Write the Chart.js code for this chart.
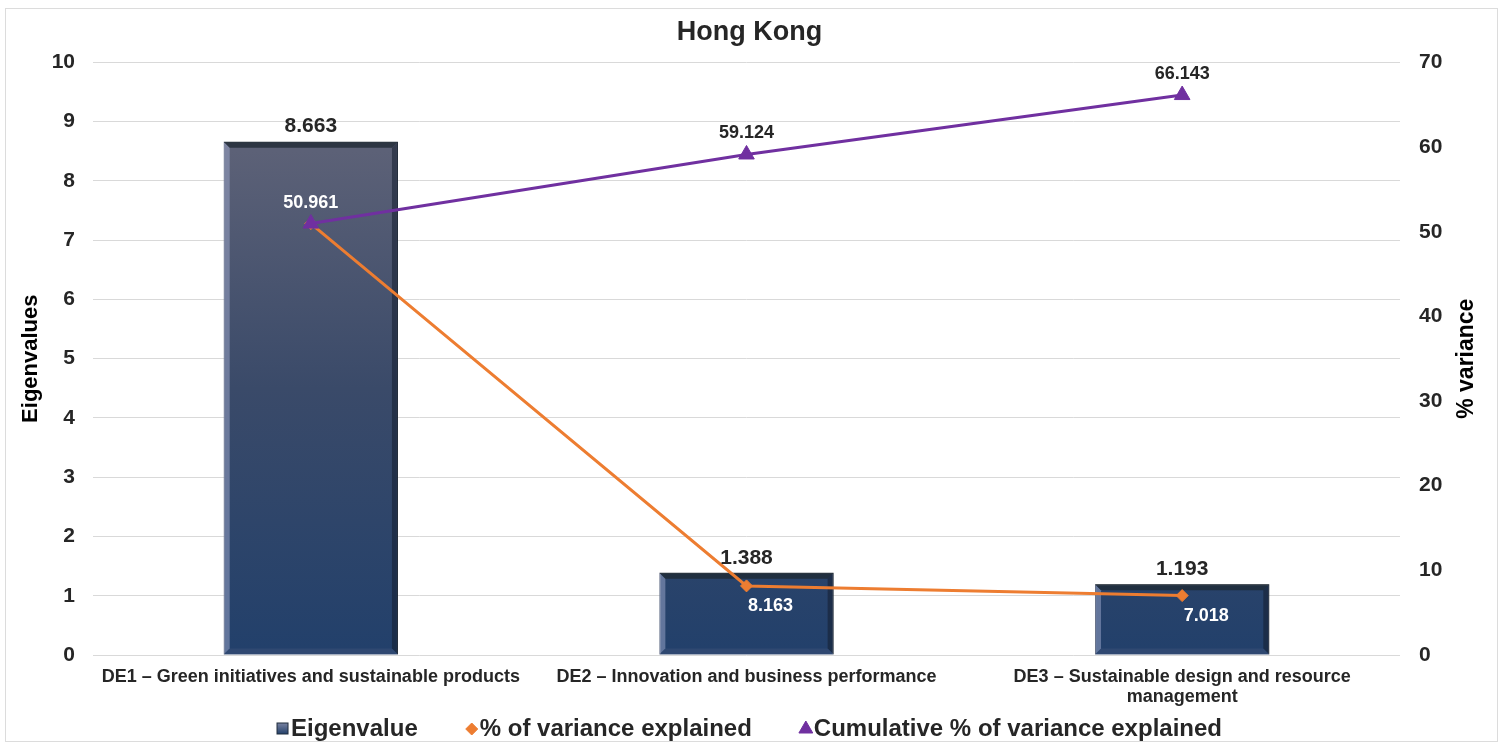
<!DOCTYPE html>
<html>
<head>
<meta charset="utf-8">
<title>Hong Kong – Eigenvalues and % variance</title>
<script src="https://cdn.jsdelivr.net/npm/chart.js@4/dist/chart.umd.min.js"></script>
<style>
  html, body { margin: 0; padding: 0; background: #ffffff; }
  #wrap { width: 1499px; height: 743px; position: relative; }
</style>
</head>
<body>
<div id="wrap"><canvas id="chart" width="1499" height="743"></canvas></div>
<script>
// ---- data ----
const categories = [
  'DE1 – Green initiatives and sustainable products',
  'DE2 – Innovation and business performance',
  ['DE3 – Sustainable design and resource', 'management']
];
const eigenvalues = [8.663, 1.388, 1.193];
const pctVariance = [50.961, 8.163, 7.018];
const cumulativePct = [50.961, 59.124, 66.143];
const eigenTicks = [0, 1, 2, 3, 4, 5, 6, 7, 8, 9, 10];
const varianceTicks = [0, 10, 20, 30, 40, 50, 60, 70];

// ---- styling ----
const FONT = '"Liberation Sans", Arial, Helvetica, sans-serif';
const TEXT = '#262626';
const ORANGE = '#ED7D31';
const PURPLE = '#7030A0';

function barGradient(ctx, area) {
  const g = ctx.createLinearGradient(0, area.top, 0, area.bottom);
  g.addColorStop(0, '#63667a');
  g.addColorStop(0.15, '#5c6177');
  g.addColorStop(0.55, '#3a4a69');
  g.addColorStop(1, '#22406b');
  return g;
}

// Bevelled edges on each bar, drawn from the bar element geometry
const bevelPlugin = {
  id: 'bevel',
  afterDatasetDraw(chart, args) {
    if (args.index !== 0) return;
    const ctx = chart.ctx;
    const meta = chart.getDatasetMeta(0);
    const b = 6;
    meta.data.forEach(bar => {
      const p = bar.getProps(['x', 'y', 'base', 'width'], true);
      const l = p.x - p.width / 2, r = p.x + p.width / 2, t = p.y, btm = p.base;
      ctx.save();
      // left edge (light)
      ctx.fillStyle = 'rgba(160,170,205,0.5)';
      ctx.beginPath();
      ctx.moveTo(l, t); ctx.lineTo(l + b, t + b); ctx.lineTo(l + b, btm - b); ctx.lineTo(l, btm); ctx.closePath(); ctx.fill();
      // top edge (dark)
      ctx.fillStyle = 'rgba(30,40,50,0.75)';
      ctx.beginPath();
      ctx.moveTo(l, t); ctx.lineTo(r, t); ctx.lineTo(r - b, t + b); ctx.lineTo(l + b, t + b); ctx.closePath(); ctx.fill();
      // right edge (dark)
      ctx.fillStyle = 'rgba(20,30,45,0.55)';
      ctx.beginPath();
      ctx.moveTo(r, t); ctx.lineTo(r, btm); ctx.lineTo(r - b, btm - b); ctx.lineTo(r - b, t + b); ctx.closePath(); ctx.fill();
      // bottom edge
      ctx.fillStyle = 'rgba(60,80,120,0.5)';
      ctx.beginPath();
      ctx.moveTo(l, btm); ctx.lineTo(r, btm); ctx.lineTo(r - b, btm - b); ctx.lineTo(l + b, btm - b); ctx.closePath(); ctx.fill();
      ctx.restore();
    });
  }
};

// Value labels for the bars and both lines
const valueLabelPlugin = {
  id: 'valueLabels',
  afterDatasetsDraw(chart, args, opts) {
    const ctx = chart.ctx;
    ctx.save();
    ctx.textAlign = 'center';
    ctx.textBaseline = 'middle';
    chart.data.datasets.forEach((ds, di) => {
      const meta = chart.getDatasetMeta(di);
      const st = opts.styles[di];
      if (!st) return;
      ctx.font = st.font;
      meta.data.forEach((el, i) => {
        if (st.skip && st.skip[i]) return;
        const v = ds.data[i];
        ctx.fillStyle = st.colors[i];
        ctx.fillText(v.toFixed(3), el.x + st.dx, el.y + st.dy);
      });
    });
    ctx.restore();
  }
};

// Secondary axis title, reading bottom to top like the primary one
const rightTitlePlugin = {
  id: 'rightTitle',
  afterDraw(chart, args, opts) {
    const s = chart.scales.y1;
    const a = chart.chartArea;
    const ctx = chart.ctx;
    ctx.save();
    ctx.font = opts.font;
    ctx.fillStyle = '#000000';
    ctx.textAlign = 'center';
    ctx.textBaseline = 'middle';
    ctx.translate(s.right - 14, (a.top + a.bottom) / 2);
    ctx.rotate(-Math.PI / 2);
    ctx.fillText(opts.text, 0, 0);
    ctx.restore();
  }
};

// Legend drawn under the axis labels
const legendPlugin = {
  id: 'bottomLegend',
  afterDraw(chart, args, opts) {
    const ctx = chart.ctx;
    ctx.save();
    ctx.font = opts.font;
    ctx.textBaseline = 'middle';
    ctx.textAlign = 'left';
    const items = chart.data.datasets.map(ds => ({ text: ds.label, style: ds.legendMarker }));
    const markerW = 12, gapAfterMarker = 2, gapBetween = 48;
    const widths = items.map(it => markerW + gapAfterMarker + ctx.measureText(it.text).width);
    const total = widths.reduce((a, b) => a + b, 0) + gapBetween * (items.length - 1);
    let x = (chart.width - total) / 2;
    const y = opts.y;
    items.forEach((it, i) => {
      const cx = x + markerW / 2;
      if (it.style === 'bar') {
        const g = ctx.createLinearGradient(0, y - 6, 0, y + 6);
        g.addColorStop(0, '#8088a6');
        g.addColorStop(1, '#23406a');
        ctx.fillStyle = g;
        ctx.fillRect(cx - 6, y - 5, 11, 11);
        ctx.strokeStyle = '#1f2c3c';
        ctx.lineWidth = 1;
        ctx.strokeRect(cx - 6, y - 5, 11, 11);
      } else {
        ctx.fillStyle = it.style === 'diamond' ? ORANGE : PURPLE;
        ctx.strokeStyle = ctx.fillStyle;
        Chart.helpers.drawPoint(ctx, {
          pointStyle: it.style === 'diamond' ? 'rectRot' : 'triangle',
          radius: it.style === 'diamond' ? 6 : 8,
          borderWidth: 1
        }, cx, y + 1);
      }
      ctx.fillStyle = TEXT;
      ctx.fillText(it.text, x + markerW + gapAfterMarker, y + 1);
      x += widths[i] + gapBetween;
    });
    ctx.restore();
  }
};

// Light frame around the whole chart
const framePlugin = {
  id: 'frame',
  beforeDraw(chart) {
    const ctx = chart.ctx;
    ctx.save();
    ctx.fillStyle = '#ffffff';
    ctx.fillRect(0, 0, chart.width, chart.height);
    ctx.strokeStyle = '#dcdcdc';
    ctx.lineWidth = 1;
    ctx.strokeRect(5.5, 8.5, 1492, 733);
    ctx.restore();
  }
};

const ctx = document.getElementById('chart').getContext('2d');
new Chart(ctx, {
  data: {
    labels: categories,
    datasets: [
      {
        type: 'bar',
        label: 'Eigenvalue',
        legendMarker: 'bar',
        data: eigenvalues,
        yAxisID: 'y',
        order: 3,
        backgroundColor: (c) => {
          const a = c.chart.chartArea;
          if (!a) return '#3a4a68';
          return barGradient(c.chart.ctx, a);
        },
        borderColor: '#2a3440',
        borderWidth: 1,
        categoryPercentage: 1.0,
        barPercentage: 0.4
      },
      {
        type: 'line',
        label: '% of variance explained',
        legendMarker: 'diamond',
        data: pctVariance,
        yAxisID: 'y1',
        order: 2,
        borderColor: ORANGE,
        backgroundColor: ORANGE,
        borderWidth: 3,
        pointStyle: 'rectRot',
        pointRadius: 6,
        pointBorderWidth: 1,
        tension: 0
      },
      {
        type: 'line',
        label: 'Cumulative % of variance explained',
        legendMarker: 'triangle',
        data: cumulativePct,
        yAxisID: 'y1',
        order: 1,
        borderColor: PURPLE,
        backgroundColor: PURPLE,
        borderWidth: 3,
        pointStyle: 'triangle',
        pointRadius: 9,
        pointBorderWidth: 1,
        tension: 0
      }
    ]
  },
  options: {
    responsive: false,
    animation: false,
    devicePixelRatio: 1,
    layout: { padding: { left: 18, right: 18, top: 8, bottom: 32 } },
    plugins: {
      legend: { display: false },
      tooltip: { enabled: false },
      title: {
        display: true,
        text: 'Hong Kong',
        color: TEXT,
        font: { family: FONT, size: 27, weight: 'bold' },
        padding: { top: 8, bottom: 14 }
      },
      valueLabels: {
        styles: [
          { font: 'bold 21px ' + FONT, dx: 0, dy: -15, colors: [TEXT, TEXT, TEXT] },
          { font: 'bold 18px ' + FONT, dx: 24, dy: 20, colors: ['#ffffff', '#ffffff', '#ffffff'], skip: [true, false, false] },
          { font: 'bold 18px ' + FONT, dx: 0, dy: -21, colors: ['#ffffff', TEXT, TEXT] }
        ]
      },
      rightTitle: { text: '% variance', font: 'bold 23px ' + FONT },
      bottomLegend: { font: 'bold 24px ' + FONT, y: 728 }
    },
    scales: {
      x: {
        type: 'category',
        offset: true,
        grid: { display: false, drawTicks: false },
        border: { display: false },
        ticks: {
          color: TEXT,
          font: { family: FONT, size: 18, weight: 'bold', lineHeight: 1.1 },
          padding: 12,
          maxRotation: 0,
          minRotation: 0,
          autoSkip: false
        },
        afterFit(scale) { scale.height = 56; }
      },
      y: {
        type: 'linear',
        position: 'left',
        min: eigenTicks[0],
        max: eigenTicks[eigenTicks.length - 1],
        afterBuildTicks(scale) { scale.ticks = eigenTicks.map(v => ({ value: v })); },
        grid: { color: '#d9d9d9', lineWidth: 1, drawTicks: false },
        border: { display: false },
        ticks: {
          color: TEXT,
          font: { family: FONT, size: 21, weight: 'bold' },
          padding: 18
        },
        title: {
          display: true,
          text: 'Eigenvalues',
          color: '#000000',
          font: { family: FONT, size: 22, weight: 'bold' },
          padding: { top: 0, bottom: 0 }
        },
        afterFit(scale) { scale.width = 75; }
      },
      y1: {
        type: 'linear',
        position: 'right',
        min: varianceTicks[0],
        max: varianceTicks[varianceTicks.length - 1],
        afterBuildTicks(scale) { scale.ticks = varianceTicks.map(v => ({ value: v })); },
        grid: { display: false, drawTicks: false },
        border: { display: false },
        ticks: {
          color: TEXT,
          font: { family: FONT, size: 21, weight: 'bold' },
          padding: 19
        },
        afterFit(scale) { scale.width = 81; }
      }
    }
  },
  plugins: [framePlugin, bevelPlugin, valueLabelPlugin, rightTitlePlugin, legendPlugin]
});
</script>
</body>
</html>
